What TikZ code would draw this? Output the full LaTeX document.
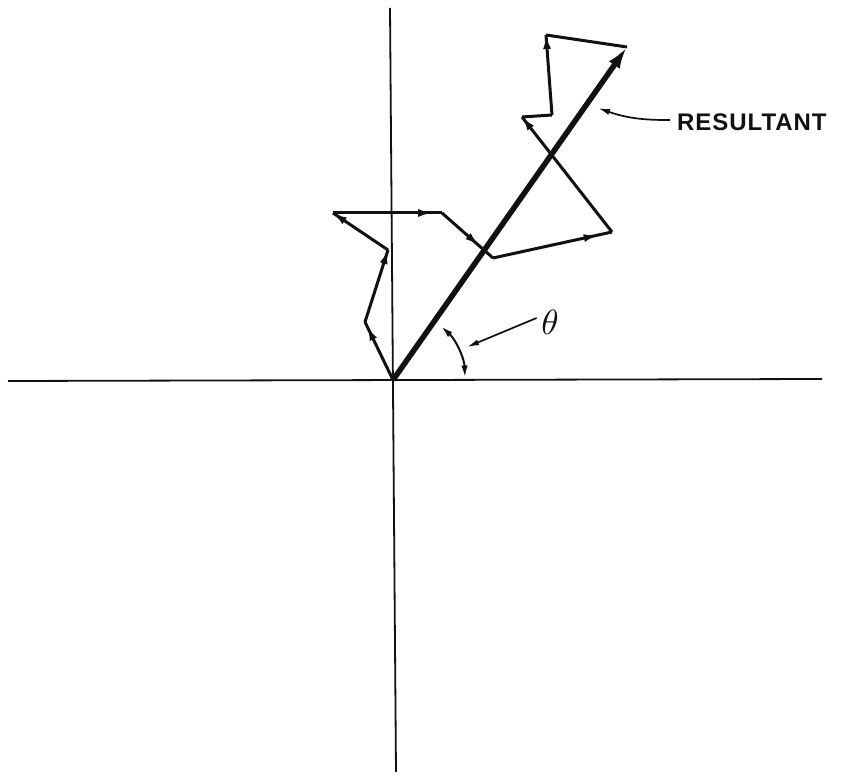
\documentclass[tikz,border=0pt]{standalone}
\usepackage{fontspec}
\setsansfont{Liberation Sans}
\newfontfamily\letteringfont[LetterSpace=4]{Liberation Sans}
\usepackage{tikz}
\usetikzlibrary{arrows.meta,decorations.markings}
\definecolor{ink}{HTML}{111111}
\tikzset{
  axisline/.style={draw=ink,line width=1.8pt},
  vec/.style={draw=ink,line width=3pt,line join=round,postaction={decorate},
              decoration={markings,mark=at position #1 with {\arrow{Latex[length=14pt,width=8pt]}}}},
  vec/.default=1,
  plainvec/.style={draw=ink,line width=3pt,line join=round},
  resvec/.style={draw=ink,line width=5.5pt,-{Latex[length=22pt,width=13pt]}},
  leader/.style={draw=ink,line width=1.7pt,-{Latex[length=12pt,width=6pt]}},
  anglearc/.style={draw=ink,line width=2pt,{Latex[length=12pt,width=6.5pt]}-{Latex[length=12pt,width=6.5pt]}},
  tag/.style={font=\letteringfont\bfseries\fontsize{24}{24}\selectfont,text=ink,inner sep=0pt}
}
\begin{document}
\begin{tikzpicture}[x=1pt,y=1pt]
      \useasboundingbox (0,0) rectangle (841,777);
      % axes
      \coordinate (xl) at (8,396);
      \coordinate (xr) at (822,398);
      \coordinate (yt) at (390,769);
      \coordinate (yb) at (396,5);
      \draw[axisline] (xl)--(xr);
      \draw[axisline] (yt)--(yb);
      % chain of vectors
      \coordinate (o) at (393,397);
      \coordinate (p1) at (365,455);
      \coordinate (p2) at (388,527);
      \coordinate (p3) at (333,564);
      \coordinate (p4) at (442,564);
      \coordinate (p5) at (493,519);
      \coordinate (p6) at (612,545);
      \coordinate (p7) at (522,660);
      \coordinate (p8) at (552,662);
      \coordinate (p9) at (546,742);
      \coordinate (tip) at (627,730);
      \draw[vec=0.92] (o)--(p1);
      \draw[vec] (p1)--(p2);
      \draw[vec] (p2)--(p3);
      \draw[vec=0.91] (p3)--(p4);
      \draw[vec=0.72] (p4)--(p5);
      \draw[vec=0.88] (p5)--(p6);
      \draw[vec] (p6)--(p7);
      \draw[plainvec] (p7)--(p8);
      \draw[vec] (p8)--(p9);
      \draw[plainvec] (p9)--(tip);
      % resultant
      \draw[resvec] (o)--(tip);
      % angle
      \draw[anglearc] (o) ++(48:72) arc[start angle=48,end angle=2,radius=72];
      \node[scale=3.5,text=ink,inner sep=0pt] (theta) at (550,455) {$\theta$};
      \coordinate (thetaend) at (467,430);
      \draw[leader] (theta.west)++(-4,4)--(thetaend);
      % label
      \node[tag,anchor=west] (reslabel) at (677,655) {RESULTANT};
      \coordinate (resend) at (598,669);
      \draw[leader] (reslabel.west)++(-7,2) to[bend left=10] (resend);
\end{tikzpicture}
\end{document}
